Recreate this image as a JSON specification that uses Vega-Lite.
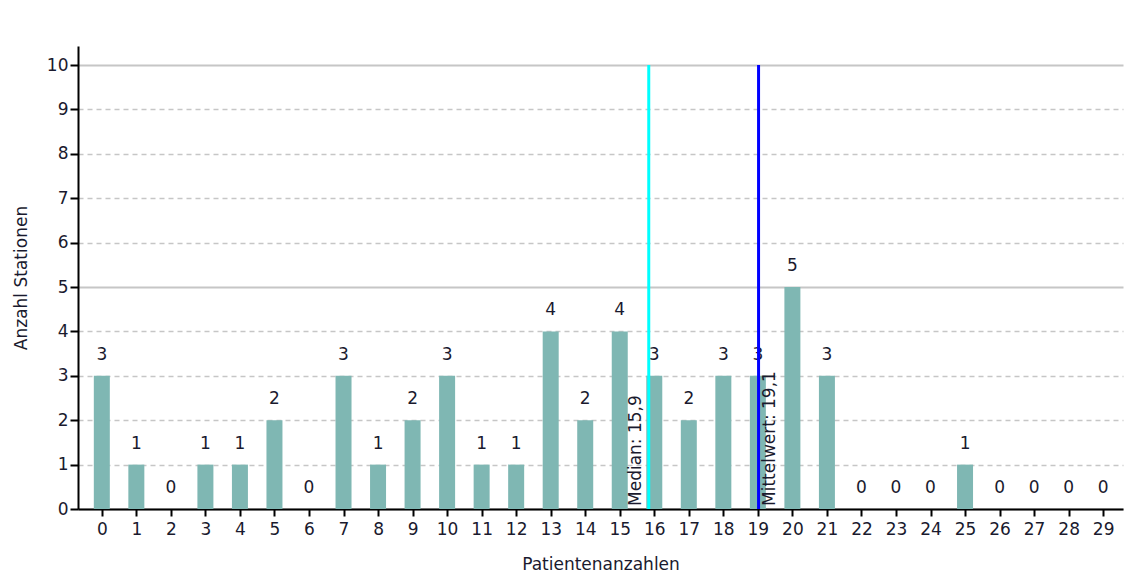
{
  "$schema": "https://vega.github.io/schema/vega-lite/v6.json",
  "width": 1045,
  "height": 463,
  "autosize": "none",
  "padding": {"left": 78, "top": 46, "right": 14, "bottom": 65},
  "background": "white",
  "config": {
    "view": {"stroke": null},
    "font": "DejaVu Sans",
    "axis": {
      "labelFont": "DejaVu Sans",
      "labelFontSize": 17,
      "labelColor": "#1a1a2e",
      "titleFont": "DejaVu Sans",
      "titleFontSize": 17,
      "titleFontWeight": "normal",
      "titleColor": "#1a1a2e",
      "domainColor": "#000000",
      "domainWidth": 2,
      "tickColor": "#000000",
      "tickWidth": 2
    }
  },
  "datasets": {
    "counts": [
      {"n": 0, "count": 3}, {"n": 1, "count": 1}, {"n": 2, "count": 0}, {"n": 3, "count": 1},
      {"n": 4, "count": 1}, {"n": 5, "count": 2}, {"n": 6, "count": 0}, {"n": 7, "count": 3},
      {"n": 8, "count": 1}, {"n": 9, "count": 2}, {"n": 10, "count": 3}, {"n": 11, "count": 1},
      {"n": 12, "count": 1}, {"n": 13, "count": 4}, {"n": 14, "count": 2}, {"n": 15, "count": 4},
      {"n": 16, "count": 3}, {"n": 17, "count": 2}, {"n": 18, "count": 3}, {"n": 19, "count": 3},
      {"n": 20, "count": 5}, {"n": 21, "count": 3}, {"n": 22, "count": 0}, {"n": 23, "count": 0},
      {"n": 24, "count": 0}, {"n": 25, "count": 1}, {"n": 26, "count": 0}, {"n": 27, "count": 0},
      {"n": 28, "count": 0}, {"n": 29, "count": 0}
    ],
    "stats": [
      {"label": "Median: 15,9", "n": 15.84, "count": 0, "top": 10, "kind": "median"},
      {"label": "Mittelwert: 19,1", "n": 19.02, "count": 0, "top": 10, "kind": "mean"}
    ]
  },
  "encoding": {
    "x": {
      "field": "n", "type": "quantitative",
      "scale": {"domain": [-0.545, 29.43], "nice": false, "zero": false},
      "axis": {
        "title": "Patientenanzahlen",
        "values": [0,1,2,3,4,5,6,7,8,9,10,11,12,13,14,15,16,17,18,19,20,21,22,23,24,25,26,27,28,29],
        "tickCount": 30,
        "labelOverlap": false,
        "labelFlush": false,
        "grid": false,
        "tickSize": 7,
        "labelPadding": 5,
        "titlePadding": 19
      }
    },
    "y": {
      "field": "count", "type": "quantitative",
      "scale": {"domain": [0, 10.43], "nice": false},
      "axis": {
        "title": "Anzahl Stationen",
        "values": [0,1,2,3,4,5,6,7,8,9,10],
        "labelOverlap": false,
        "labelFlush": false,
        "tickSize": 8,
        "labelPadding": 2,
        "titlePadding": 16,
        "grid": true,
        "gridColor": "#c6c6c6",
        "gridWidth": {"condition": {"test": "datum.value % 5 === 0", "value": 2}, "value": 1.5},
        "gridDash": {"condition": {"test": "datum.value % 5 === 0", "value": []}, "value": [5, 4]}
      }
    }
  },
  "layer": [
    {
      "data": {"name": "counts"},
      "mark": {"type": "bar", "size": 16, "color": "#7fb7b3"}
    },
    {
      "data": {"name": "counts"},
      "mark": {"type": "text", "fontSize": 17, "color": "#1a1a2e", "baseline": "middle", "dy": -21},
      "encoding": {
        "text": {"field": "count", "type": "quantitative"}
      }
    },
    {
      "data": {"name": "stats"},
      "mark": {"type": "rule", "strokeWidth": 3},
      "encoding": {
        "y2": {"field": "top"},
        "color": {
          "field": "kind", "type": "nominal",
          "scale": {"domain": ["median", "mean"], "range": ["#00ffff", "#0000ff"]},
          "legend": null
        }
      }
    },
    {
      "data": {"name": "stats"},
      "transform": [{"filter": "datum.kind === 'median'"}],
      "mark": {"type": "text", "angle": 270, "align": "left", "baseline": "bottom", "dx": 3, "dy": -4, "fontSize": 17, "color": "#1a1a2e"},
      "encoding": {
        "text": {"field": "label"}
      }
    },
    {
      "data": {"name": "stats"},
      "transform": [{"filter": "datum.kind === 'mean'"}],
      "mark": {"type": "text", "angle": 270, "align": "left", "baseline": "top", "dx": 3, "dy": 3, "fontSize": 17, "color": "#1a1a2e"},
      "encoding": {
        "text": {"field": "label"}
      }
    }
  ]
}
